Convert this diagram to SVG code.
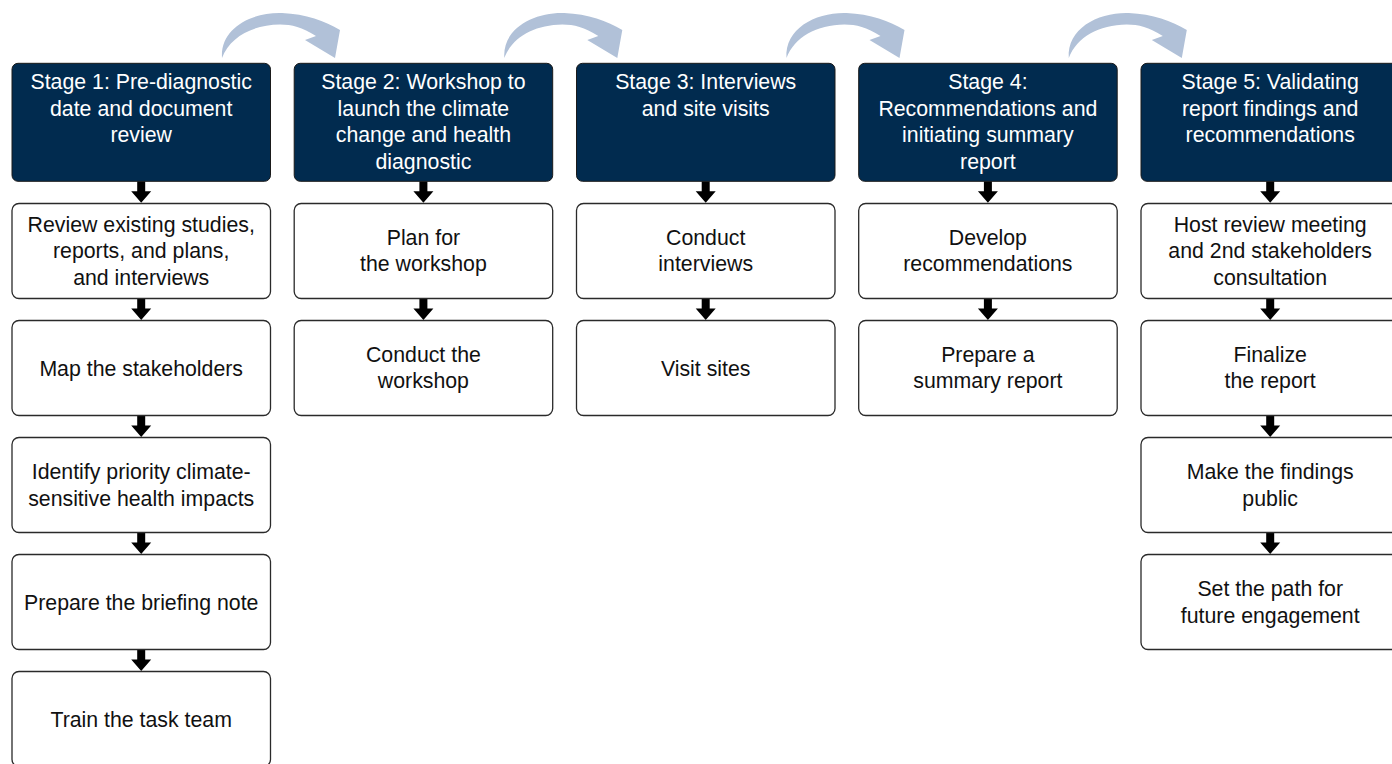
<svg xmlns="http://www.w3.org/2000/svg" xmlns:xlink="http://www.w3.org/1999/xlink" width="1392" height="764" viewBox="0 0 1392 764">
<style>
.hdr{fill:#012b4f;stroke:#1a1a1a;stroke-width:1}
.box{fill:#ffffff;stroke:#2a2a2a;stroke-width:1.3}
.ht{font-family:"Liberation Sans",Arial,sans-serif;font-size:21.3px;fill:#ffffff;text-anchor:middle}
.bt{font-family:"Liberation Sans",Arial,sans-serif;font-size:21.3px;fill:#111111;text-anchor:middle}
.down{fill:#000000}
.curve{fill:#b1c1d8}
</style>
<defs>
<path id="dn" d="M-4,0 L4,0 L4,10 L10,10 L0,21.5 L-10,10 L-4,10 Z"/>
<path id="cv" d="M222,58 C220,28 252,12 282,13 C306,14 325,21 340,30 L335,58 L305,40 L316,36 C302,27 292,24.5 280,24.5 C252,25 230,37 222,58 Z"/>
</defs>
<g id="connectors">
<use href="#cv" class="curve"/>
<use href="#cv" class="curve" transform="translate(282.3,0)"/>
<use href="#cv" class="curve" transform="translate(564.5,0)"/>
<use href="#cv" class="curve" transform="translate(846.8,0)"/>
<use href="#dn" class="down" transform="translate(141.2,181.3)"/>
<use href="#dn" class="down" transform="translate(141.2,298.5)"/>
<use href="#dn" class="down" transform="translate(141.2,415.5)"/>
<use href="#dn" class="down" transform="translate(141.2,532.5)"/>
<use href="#dn" class="down" transform="translate(141.2,649.5)"/>
<use href="#dn" class="down" transform="translate(423.4,181.3)"/>
<use href="#dn" class="down" transform="translate(423.4,298.5)"/>
<use href="#dn" class="down" transform="translate(705.7,181.3)"/>
<use href="#dn" class="down" transform="translate(705.7,298.5)"/>
<use href="#dn" class="down" transform="translate(987.9,181.3)"/>
<use href="#dn" class="down" transform="translate(987.9,298.5)"/>
<use href="#dn" class="down" transform="translate(1270.2,181.3)"/>
<use href="#dn" class="down" transform="translate(1270.2,298.5)"/>
<use href="#dn" class="down" transform="translate(1270.2,415.5)"/>
<use href="#dn" class="down" transform="translate(1270.2,532.5)"/>
</g>

<g id="stage1">
<rect class="hdr" x="12" y="63.3" width="258.5" height="118" rx="6"/>
<text class="ht" x="141.2" y="89">Stage 1: Pre-diagnostic</text>
<text class="ht" x="141.2" y="115.5">date and document</text>
<text class="ht" x="141.2" y="142">review</text>
</g>
<g id="s1-review">
<rect class="box" x="12" y="203.5" width="258.5" height="95" rx="7"/>
<text class="bt" x="141.2" y="232">Review existing studies,</text>
<text class="bt" x="141.2" y="258.4">reports, and plans,</text>
<text class="bt" x="141.2" y="284.8">and interviews</text>
</g>
<g id="s1-map">
<rect class="box" x="12" y="320.5" width="258.5" height="95" rx="7"/>
<text class="bt" x="141.2" y="375.5">Map the stakeholders</text>
</g>
<g id="s1-identify">
<rect class="box" x="12" y="437.5" width="258.5" height="95" rx="7"/>
<text class="bt" x="141.2" y="479.3">Identify priority climate-</text>
<text class="bt" x="141.2" y="505.7">sensitive health impacts</text>
</g>
<g id="s1-briefing">
<rect class="box" x="12" y="554.5" width="258.5" height="95" rx="7"/>
<text class="bt" x="141.2" y="609.5">Prepare the briefing note</text>
</g>
<g id="s1-train">
<rect class="box" x="12" y="671.5" width="258.5" height="95" rx="7"/>
<text class="bt" x="141.2" y="726.5">Train the task team</text>
</g>

<g id="stage2">
<rect class="hdr" x="294.2" y="63.3" width="258.5" height="118" rx="6"/>
<text class="ht" x="423.4" y="89">Stage 2: Workshop to</text>
<text class="ht" x="423.4" y="115.5">launch the climate</text>
<text class="ht" x="423.4" y="142">change and health</text>
<text class="ht" x="423.4" y="168.5">diagnostic</text>
</g>
<g id="s2-plan">
<rect class="box" x="294.2" y="203.5" width="258.5" height="95" rx="7"/>
<text class="bt" x="423.4" y="245">Plan for</text>
<text class="bt" x="423.4" y="271.4">the workshop</text>
</g>
<g id="s2-conduct">
<rect class="box" x="294.2" y="320.5" width="258.5" height="95" rx="7"/>
<text class="bt" x="423.4" y="362">Conduct the</text>
<text class="bt" x="423.4" y="388.4">workshop</text>
</g>

<g id="stage3">
<rect class="hdr" x="576.5" y="63.3" width="258.5" height="118" rx="6"/>
<text class="ht" x="705.7" y="89">Stage 3: Interviews</text>
<text class="ht" x="705.7" y="115.5">and site visits</text>
</g>
<g id="s3-interviews">
<rect class="box" x="576.5" y="203.5" width="258.5" height="95" rx="7"/>
<text class="bt" x="705.7" y="245">Conduct</text>
<text class="bt" x="705.7" y="271.4">interviews</text>
</g>
<g id="s3-visit">
<rect class="box" x="576.5" y="320.5" width="258.5" height="95" rx="7"/>
<text class="bt" x="705.7" y="375.5">Visit sites</text>
</g>

<g id="stage4">
<rect class="hdr" x="858.7" y="63.3" width="258.5" height="118" rx="6"/>
<text class="ht" x="987.9" y="89">Stage 4:</text>
<text class="ht" x="987.9" y="115.5">Recommendations and</text>
<text class="ht" x="987.9" y="142">initiating summary</text>
<text class="ht" x="987.9" y="168.5">report</text>
</g>
<g id="s4-develop">
<rect class="box" x="858.7" y="203.5" width="258.5" height="95" rx="7"/>
<text class="bt" x="987.9" y="245">Develop</text>
<text class="bt" x="987.9" y="271.4">recommendations</text>
</g>
<g id="s4-summary">
<rect class="box" x="858.7" y="320.5" width="258.5" height="95" rx="7"/>
<text class="bt" x="987.9" y="362">Prepare a</text>
<text class="bt" x="987.9" y="388.4">summary report</text>
</g>

<g id="stage5">
<rect class="hdr" x="1141" y="63.3" width="258.5" height="118" rx="6"/>
<text class="ht" x="1270.2" y="89">Stage 5: Validating</text>
<text class="ht" x="1270.2" y="115.5">report findings and</text>
<text class="ht" x="1270.2" y="142">recommendations</text>
</g>
<g id="s5-host">
<rect class="box" x="1141" y="203.5" width="258.5" height="95" rx="7"/>
<text class="bt" x="1270.2" y="232">Host review meeting</text>
<text class="bt" x="1270.2" y="258.4">and 2nd stakeholders</text>
<text class="bt" x="1270.2" y="284.8">consultation</text>
</g>
<g id="s5-finalize">
<rect class="box" x="1141" y="320.5" width="258.5" height="95" rx="7"/>
<text class="bt" x="1270.2" y="362">Finalize</text>
<text class="bt" x="1270.2" y="388.4">the report</text>
</g>
<g id="s5-public">
<rect class="box" x="1141" y="437.5" width="258.5" height="95" rx="7"/>
<text class="bt" x="1270.2" y="479.3">Make the findings</text>
<text class="bt" x="1270.2" y="505.7">public</text>
</g>
<g id="s5-path">
<rect class="box" x="1141" y="554.5" width="258.5" height="95" rx="7"/>
<text class="bt" x="1270.2" y="596.3">Set the path for</text>
<text class="bt" x="1270.2" y="622.7">future engagement</text>
</g>
</svg>
